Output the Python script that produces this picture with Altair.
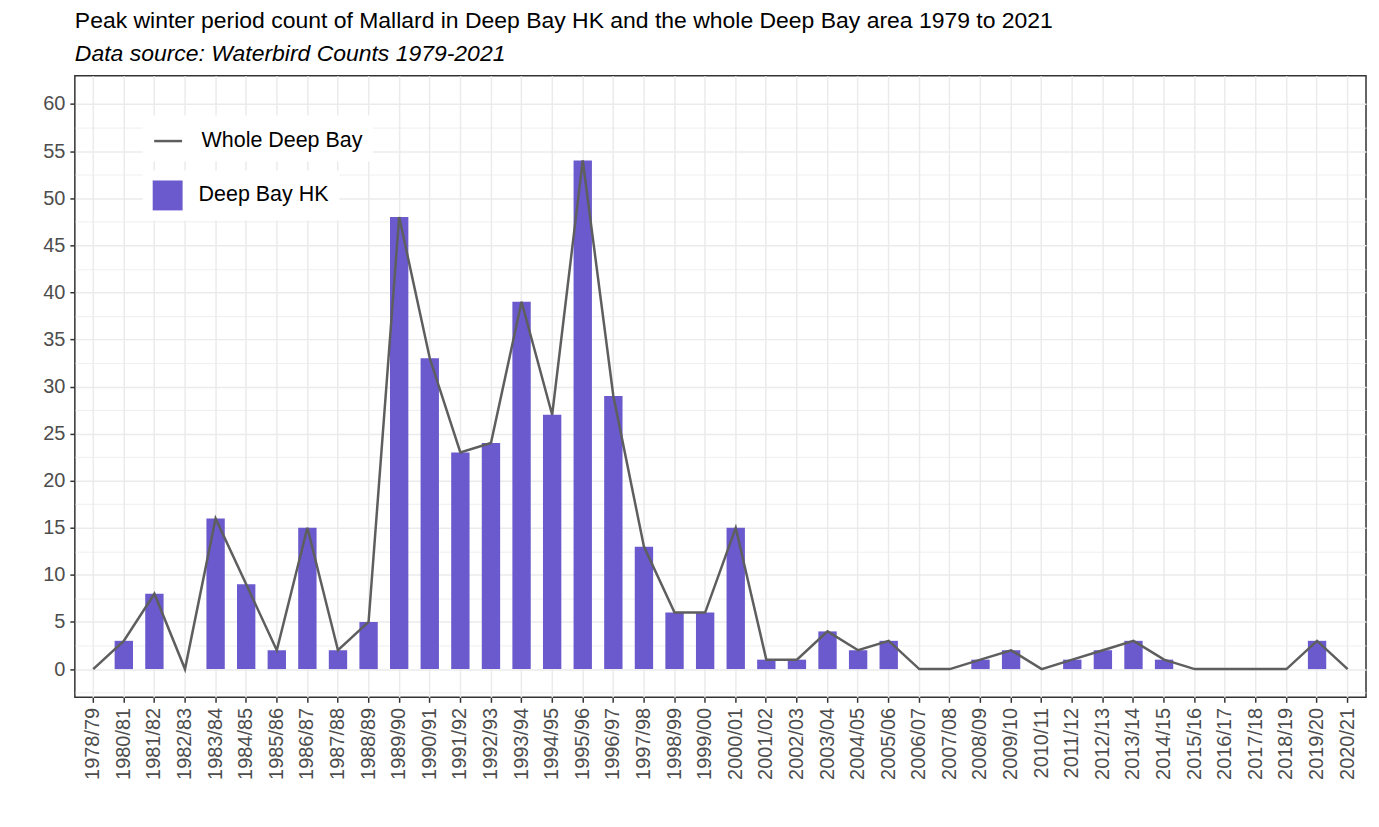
import altair as alt
import pandas as pd

seasons = [
    "1978/79", "1980/81", "1981/82", "1982/83", "1983/84", "1984/85", "1985/86",
    "1986/87", "1987/88", "1988/89", "1989/90", "1990/91", "1991/92", "1992/93",
    "1993/94", "1994/95", "1995/96", "1996/97", "1997/98", "1998/99", "1999/00",
    "2000/01", "2001/02", "2002/03", "2003/04", "2004/05", "2005/06", "2006/07",
    "2007/08", "2008/09", "2009/10", "2010/11", "2011/12", "2012/13", "2013/14",
    "2014/15", "2015/16", "2016/17", "2017/18", "2018/19", "2019/20", "2020/21",
]
deep_bay_hk = [
    0, 3, 8, 0, 16, 9, 2, 15, 2, 5, 48, 33, 23, 24, 39, 27, 54, 29, 13, 6, 6,
    15, 1, 1, 4, 2, 3, 0, 0, 1, 2, 0, 1, 2, 3, 1, 0, 0, 0, 0, 3, 0,
]
whole_deep_bay = [
    0, 3, 8, 0, 16, 9, 2, 15, 2, 5, 48, 33, 23, 24, 39, 27, 54, 29, 13, 6, 6,
    15, 1, 1, 4, 2, 3, 0, 0, 1, 2, 0, 1, 2, 3, 1, 0, 0, 0, 0, 3, 0,
]
y_ticks = [-2.5, 0, 2.5, 5, 7.5, 10, 12.5, 15, 17.5, 20, 22.5, 25, 27.5, 30, 32.5,
           35, 37.5, 40, 42.5, 45, 47.5, 50, 52.5, 55, 57.5, 60]

df = pd.DataFrame({"season": seasons, "hk": deep_bay_hk, "whole": whole_deep_bay})

FONT = "Liberation Sans"
GRID = "#EBEBEB"

x_scale = alt.Scale(paddingInner=0.4, paddingOuter=0.3)
x_axis = alt.Axis(
    labelAngle=-90, labelFontSize=20, labelColor="#4D4D4D", labelFont=FONT,
    tickColor="#333333", tickSize=5, tickWidth=1.5, labelPadding=5,
    grid=True, gridColor=GRID, gridWidth=1.5, domain=False,
)
y_scale = alt.Scale(domain=[-3, 63], nice=False, zero=False)
y_axis = alt.Axis(
    values=y_ticks,
    labelExpr="datum.value % 5 == 0 ? datum.label : ''",
    labelFontSize=20, labelColor="#4D4D4D", labelFont=FONT, labelPadding=5,
    tickColor="#333333", tickSize=5, tickWidth=1.5,
    tickOpacity={"condition": {"test": "datum.value % 5 != 0", "value": 0}, "value": 1},
    grid=True, gridColor=GRID,
    gridWidth={"condition": {"test": "datum.value % 5 != 0", "value": 0.8}, "value": 1.5},
    domain=False,
)

bars = alt.Chart(df).transform_calculate(series="'Deep Bay HK'").mark_bar().encode(
    x=alt.X("season:N", sort=seasons, title=None, scale=x_scale, axis=x_axis),
    y=alt.Y("hk:Q", title=None, scale=y_scale, axis=y_axis),
    fill=alt.Fill(
        "series:N",
        scale=alt.Scale(domain=["Deep Bay HK"], range=["#6A5ACD"]),
        legend=alt.Legend(
            title=None, orient="none", legendX=68, legendY=95,
            symbolType="square", symbolSize=900, symbolStrokeWidth=0,
            symbolOpacity=1, labelLimit=400,
            labelFontSize=21.5, labelFont=FONT, labelColor="black", labelOffset=16,
            fillColor="white", padding=10,
        ),
    ),
)

line = alt.Chart(df).transform_calculate(series2="'Whole Deep Bay'").mark_line(
    strokeWidth=2.5
).encode(
    x=alt.X("season:N", sort=seasons, title=None, scale=x_scale, axis=x_axis, bandPosition=0.5),
    y=alt.Y("whole:Q", title=None, scale=y_scale, axis=y_axis),
    stroke=alt.Stroke(
        "series2:N",
        scale=alt.Scale(domain=["Whole Deep Bay"], range=["#5E5E5E"]),
        legend=alt.Legend(
            title=None, orient="none", legendX=68, legendY=40,
            symbolType="stroke", symbolSize=784, symbolStrokeWidth=2.5,
            labelLimit=400,
            labelFontSize=21.5, labelFont=FONT, labelColor="black", labelOffset=18,
            fillColor="white", padding=10,
        ),
    ),
)

chart = alt.layer(bars, line).properties(
    width=1294,
    height=623,
    padding={"left": 34, "top": 1, "right": 5, "bottom": 5},
    title=alt.TitleParams(
        text="Peak winter period count of Mallard in Deep Bay HK and the whole Deep Bay area 1979 to 2021",
        subtitle="Data source: Waterbird Counts 1979-2021",
        anchor="start", frame="group", font=FONT, fontSize=23, fontWeight="normal",
        color="black", subtitleFont=FONT, subtitleFontSize=23,
        subtitleFontStyle="italic", subtitleColor="black", subtitlePadding=10,
        offset=10,
    ),
).configure(font=FONT).configure_view(
    stroke="#333333", strokeWidth=1.5
)

chart.save("out.html", embed_options={"renderer": "svg", "actions": False})
